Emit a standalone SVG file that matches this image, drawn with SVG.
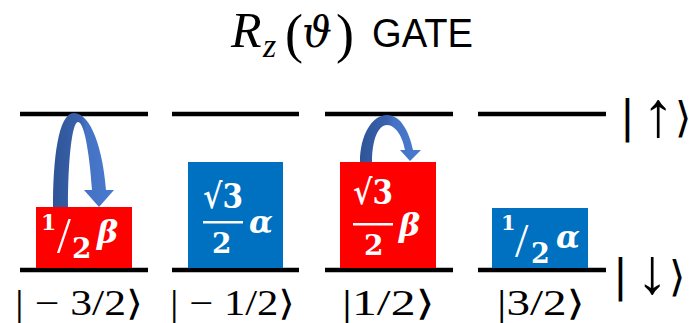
<svg xmlns="http://www.w3.org/2000/svg" width="690" height="323" viewBox="0 0 690 323">
<style>
.lvl{stroke:#000;stroke-width:4.5}
.red{fill:#FF0000}
.blue{fill:#0070C0}
.bt{fill:#fff;font-family:"DejaVu Serif","Liberation Serif",serif;font-weight:bold}
.it{font-style:italic}
.sl{fill:#fff;font-family:"Liberation Serif","DejaVu Serif",serif;font-weight:normal}
.lab{fill:#000;font-family:"Liberation Serif","DejaVu Serif",serif}
.spin{fill:#000;font-family:"DejaVu Sans","Liberation Sans",sans-serif;font-size:44px}
.arr{font-family:"Liberation Sans","DejaVu Sans",sans-serif;font-size:64px}
.ket{font-size:42px}
.bar{fill:#fff}
</style>
<defs>
<linearGradient id="ag" x1="0" y1="0" x2="1" y2="0">
<stop offset="0" stop-color="#2F5597"/>
<stop offset="0.45" stop-color="#3A62AD"/>
<stop offset="0.55" stop-color="#4472C4"/>
<stop offset="1" stop-color="#4A7BD0"/>
</linearGradient>
</defs>
<g id="title">
<text class="lab" font-size="50" y="47"><tspan x="231" font-style="italic">R</tspan><tspan x="263" y="57" font-size="34" font-style="italic">z</tspan><tspan x="285" y="52" font-size="54">(</tspan><tspan x="302" y="47" font-style="italic" font-family="DejaVu Serif, serif" font-size="42">ϑ</tspan><tspan x="336" y="52" font-size="54">)</tspan></text>
<text x="372" y="47" font-family="Liberation Sans, Arial, sans-serif" font-size="40" textLength="101" lengthAdjust="spacingAndGlyphs">GATE</text>
</g>
<g id="levels">
<line class="lvl" x1="20" y1="114" x2="148" y2="114"/>
<line class="lvl" x1="172" y1="114" x2="299" y2="114"/>
<line class="lvl" x1="325" y1="114" x2="453" y2="114"/>
<line class="lvl" x1="478" y1="114" x2="606" y2="114"/>
<line class="lvl" x1="20" y1="270" x2="148" y2="270"/>
<line class="lvl" x1="172" y1="270" x2="299" y2="270"/>
<line class="lvl" x1="325" y1="270" x2="453" y2="270"/>
<line class="lvl" x1="478" y1="270" x2="606" y2="270"/>
</g>
<g id="node-m32">
<rect class="red" x="36" y="207" width="96" height="61"/>
<text class="bt" x="41" y="230" font-size="22">1</text>
<text class="sl" x="57" y="252" font-size="50">/</text>
<text class="bt" x="72" y="258" font-size="28">2</text>
<text class="bt it" x="97" y="243" font-size="32">β</text>
<text class="lab" x="15" y="315" font-size="35" textLength="128" lengthAdjust="spacingAndGlyphs">| − 3/2⟩</text>
</g>
<g id="node-m12">
<rect class="blue" x="188" y="162" width="95" height="106"/>
<text class="bt" x="203" y="208" font-size="34" textLength="40" lengthAdjust="spacingAndGlyphs">√3</text>
<rect class="bar" x="203" y="221" width="40" height="2.5"/>
<text class="bt" x="212" y="253" font-size="28">2</text>
<text class="bt it" x="249" y="233" font-size="31">α</text>
<text class="lab" x="170" y="315" font-size="35" textLength="125" lengthAdjust="spacingAndGlyphs">| − 1/2⟩</text>
</g>
<g id="node-p12">
<rect class="red" x="340" y="162" width="96" height="106"/>
<text class="bt" x="353" y="204" font-size="34" textLength="40" lengthAdjust="spacingAndGlyphs">√3</text>
<rect class="bar" x="353" y="223" width="40" height="2.5"/>
<text class="bt" x="364" y="255" font-size="28">2</text>
<text class="bt it" x="399" y="236" font-size="32">β</text>
<text class="lab" x="342" y="315" font-size="35" textLength="93" lengthAdjust="spacingAndGlyphs">|1/2⟩</text>
</g>
<g id="node-p32">
<rect class="blue" x="492" y="208" width="96" height="60"/>
<text class="bt" x="501" y="230" font-size="21">1</text>
<text class="sl" x="515" y="257" font-size="48">/</text>
<text class="bt" x="531" y="263" font-size="27">2</text>
<text class="bt it" x="556" y="248" font-size="31">α</text>
<text class="lab" x="497" y="315" font-size="35" textLength="88" lengthAdjust="spacingAndGlyphs">|3/2⟩</text>
</g>
<g id="spin-labels">
<text class="spin" y="132"><tspan x="620">|</tspan><tspan class="arr" x="642" y="136">↑</tspan><tspan class="ket" x="675" y="132">⟩</tspan></text>
<text class="spin" y="291"><tspan x="613">|</tspan><tspan class="arr" x="636" y="293">↓</tspan><tspan class="ket" x="669" y="291">⟩</tspan></text>
</g>
<g id="connectors">
<path fill="url(#ag)" d="M53,207 C53,160 58,113 74,113 C91,113 103,150 106,190 L114,190 L99,207 L84,190 L92,190 C90,160 85,122 78,122 C72,122 68,160 68,207 Z"/>
<path fill="url(#ag)" d="M360,162 C360,135 372,115 387,115 C402,115 410,135 413,150 L421,150 L410,161 L400,150 L405,150 C403,138 396,125 387,125 C378,125 372,140 372,162 Z"/>
</g>
</svg>
